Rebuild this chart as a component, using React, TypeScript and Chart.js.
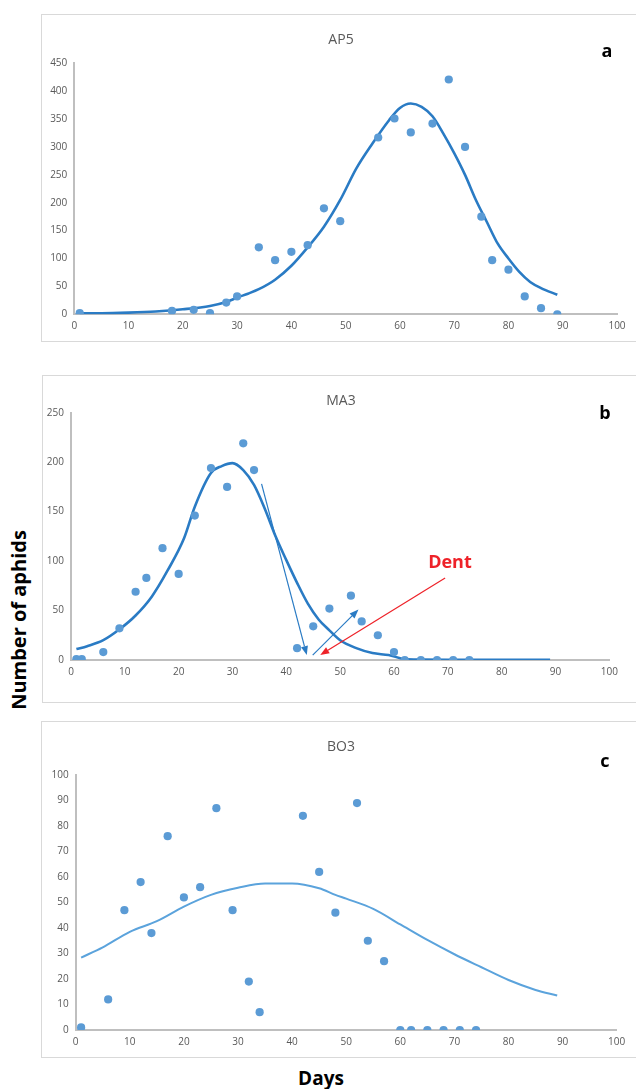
import React, { useEffect, useRef } from 'react';
import { Chart, registerables } from 'chart.js';
Chart.register(...registerables);

// ---------- Data ----------
const apDays = [1, 18, 22, 25, 28, 30, 34, 37, 40, 43, 46, 49, 56, 59, 62, 66, 69, 72, 75, 77, 80, 83, 86, 89];
const apCounts = [2, 6, 8, 2, 21, 32, 120, 97, 112, 124, 190, 167, 317, 351, 326, 342, 421, 300, 175, 97, 80, 32, 11, 0];
const apFitDays = [1, 5, 10, 15, 20, 25, 28, 30, 32, 34, 37, 40, 43, 46, 49, 52, 55, 58, 60, 62, 64, 66, 68, 70, 72, 74, 76, 78, 80, 82, 84, 86, 89];
const apFit = [2, 2, 3, 5, 9, 15, 22, 30, 37, 45, 62, 87, 120, 157, 205, 262, 307, 348, 370, 378, 372, 355, 324, 289, 250, 205, 166, 127, 100, 76, 58, 47, 35];

const maDays = [1, 2, 6, 9, 12, 14, 17, 20, 23, 26, 29, 32, 34, 42, 45, 48, 52, 54, 57, 60, 62, 65, 68, 71, 74];
const maCounts = [1, 1, 8, 32, 69, 83, 113, 87, 146, 194, 175, 219, 192, 12, 34, 52, 65, 39, 25, 8, 0, 0, 0, 0, 0];
const maFitDays = [1, 3, 6, 9, 12, 15, 18, 21, 23, 26, 28, 30, 32, 34, 36, 38, 40, 42, 44, 46, 48, 50, 53, 56, 59, 62, 65, 70, 80, 89];
const maFit = [11, 14, 20, 31, 45, 64, 91, 123, 155, 189, 196, 199, 192, 177, 153, 125, 101, 78, 57, 41, 30, 20, 12, 7, 5, 1, 0.5, 0.3, 0.2, 0.2];

const boDays = [1, 6, 9, 12, 14, 17, 20, 23, 26, 29, 32, 34, 42, 45, 48, 52, 54, 57, 60, 62, 65, 68, 71, 74];
const boCounts = [1, 12, 47, 58, 38, 76, 52, 56, 87, 47, 19, 7, 84, 62, 46, 89, 35, 27, 0, 0, 0, 0, 0, 0];
const boFitDays = [1, 5, 10, 15, 20, 25, 30, 35, 40, 45, 48, 50, 55, 60, 65, 70, 75, 80, 85, 89];
const boFit = [28.4, 32.4, 38.5, 42.7, 48.4, 53, 55.8, 57.5, 57.5, 55.6, 53, 51.5, 47.5, 41.4, 35.3, 29.7, 24.6, 19.6, 15.7, 13.5];

const xTickStep = 10;
const xMax = 100;

// annotation arrows for panel b, in data units [day, aphids]
const maArrowFrom = [[35.4, 178], [44.9, 5], [69.5, 83]];
const maArrowTo = [[43.8, 5], [53.4, 51], [46.3, 5]];
const maArrowKind = ['blue', 'blue', 'red'];
const maNoteText = 'Dent';
const maNoteAt = [70.4, 98];

// ---------- Styles ----------
const POINT_COLOR = '#5b9bd5';
const DARK_LINE = '#2a7bc4';
const LIGHT_LINE = '#5ba3dc';
const AXIS_COLOR = '#bfbfbf';
const TICK_COLOR = '#595959';
const RED = '#ee2229';

const arrowPlugin = {
  id: 'arrowNotes',
  afterDatasetsDraw(chart: any, _args: any, opts: any) {
    if (!opts || !opts.from) return;
    const { ctx } = chart;
    const xs = chart.scales.x;
    const ys = chart.scales.y;
    ctx.save();
    opts.from.forEach((f: number[], i: number) => {
      const t = opts.to[i];
      const color = opts.kind[i] === 'red' ? RED : DARK_LINE;
      const x1 = xs.getPixelForValue(f[0]);
      const y1 = ys.getPixelForValue(f[1]);
      const x2 = xs.getPixelForValue(t[0]);
      const y2 = ys.getPixelForValue(t[1]);
      const ang = Math.atan2(y2 - y1, x2 - x1);
      const L = 9;
      const W = 3.5;
      const bx = x2 - L * Math.cos(ang);
      const by = y2 - L * Math.sin(ang);
      ctx.strokeStyle = color;
      ctx.fillStyle = color;
      ctx.lineWidth = 1.2;
      ctx.beginPath();
      ctx.moveTo(x1, y1);
      ctx.lineTo(bx, by);
      ctx.stroke();
      ctx.beginPath();
      ctx.moveTo(x2, y2);
      ctx.lineTo(bx + W * Math.sin(ang), by - W * Math.cos(ang));
      ctx.lineTo(bx - W * Math.sin(ang), by + W * Math.cos(ang));
      ctx.closePath();
      ctx.fill();
    });
    if (opts.text) {
      ctx.fillStyle = RED;
      ctx.font = 'bold 18px "Open Sans"';
      ctx.textAlign = 'center';
      ctx.textBaseline = 'middle';
      ctx.fillText(opts.text, xs.getPixelForValue(opts.textAt[0]), ys.getPixelForValue(opts.textAt[1]));
    }
    ctx.restore();
  },
};

type PanelCfg = {
  days: number[];
  counts: number[];
  fitDays: number[];
  fit: number[];
  yMax: number;
  yStep: number;
  left: number;
  top: number;
  w: number;
  h: number;
  yW: number;
  padT: number;
  padR: number;
  padB: number;
  lineColor: string;
  lineWidth: number;
  notes?: any;
};

function Panel({ cfg }: { cfg: PanelCfg }) {
  const ref = useRef<HTMLCanvasElement>(null);
  useEffect(() => {
    const tickFont = { family: '"Open Sans", "Noto Sans", sans-serif', size: 10 };
    const chart = new Chart(ref.current as HTMLCanvasElement, {
      type: 'scatter',
      data: {
        datasets: [
          {
            type: 'scatter',
            data: cfg.days.map((d, i) => ({ x: d, y: cfg.counts[i] })),
            backgroundColor: POINT_COLOR,
            borderWidth: 0,
            pointRadius: 4.1,
          } as any,
          {
            type: 'line',
            data: cfg.fitDays.map((d, i) => ({ x: d, y: cfg.fit[i] })),
            borderColor: cfg.lineColor,
            borderWidth: cfg.lineWidth,
            pointRadius: 0,
            fill: false,
            cubicInterpolationMode: 'monotone',
            showLine: true,
          } as any,
        ],
      },
      options: {
        responsive: false,
        animation: false,
        layout: { padding: { left: 0, top: cfg.padT, right: cfg.padR, bottom: cfg.padB } },
        plugins: {
          legend: { display: false },
          tooltip: { enabled: false },
          arrowNotes: cfg.notes || {},
        } as any,
        scales: {
          x: {
            type: 'linear',
            min: 0,
            max: xMax,
            ticks: { stepSize: xTickStep, color: TICK_COLOR, font: tickFont, padding: 6, maxRotation: 0, autoSkip: false },
            grid: { color: 'rgba(0,0,0,0)', drawTicks: false },
            border: { color: AXIS_COLOR, width: 2 },
            afterFit: (s: any) => {
              s.height = 20;
            },
          },
          y: {
            type: 'linear',
            min: 0,
            max: cfg.yMax,
            ticks: { stepSize: cfg.yStep, color: TICK_COLOR, font: tickFont, padding: 7 },
            grid: { color: 'rgba(0,0,0,0)', drawTicks: false },
            border: { color: AXIS_COLOR, width: 2 },
            afterFit: (s: any) => {
              s.width = cfg.yW;
            },
          },
        },
      } as any,
      plugins: [arrowPlugin],
    });
    return () => chart.destroy();
  }, []);
  return (
    <canvas
      ref={ref}
      width={cfg.w}
      height={cfg.h}
      style={{ position: 'absolute', left: cfg.left, top: cfg.top, width: cfg.w, height: cfg.h }}
    />
  );
}

const panelA: PanelCfg = {
  days: apDays, counts: apCounts, fitDays: apFitDays, fit: apFit,
  yMax: 450, yStep: 50,
  left: 41, top: 14, w: 595, h: 328,
  yW: 33.3, padT: 49.3, padR: 19, padB: 7.7,
  lineColor: DARK_LINE, lineWidth: 2.6,
};
const panelB: PanelCfg = {
  days: maDays, counts: maCounts, fitDays: maFitDays, fit: maFit,
  yMax: 250, yStep: 50,
  left: 42, top: 375, w: 594, h: 328,
  yW: 29, padT: 37.7, padR: 26.7, padB: 23,
  lineColor: DARK_LINE, lineWidth: 2.6,
  notes: { from: maArrowFrom, to: maArrowTo, kind: maArrowKind, text: maNoteText, textAt: maNoteAt },
};
const panelC: PanelCfg = {
  days: boDays, counts: boCounts, fitDays: boFitDays, fit: boFit,
  yMax: 100, yStep: 10,
  left: 41, top: 721, w: 595, h: 337,
  yW: 34.7, padT: 54, padR: 19.3, padB: 8,
  lineColor: LIGHT_LINE, lineWidth: 2,
};

const boxStyle = (left: number, top: number, h: number): React.CSSProperties => ({
  position: 'absolute', left, top, width: 640 - left, height: h,
  border: '1px solid #d9d9d9', boxSizing: 'border-box', background: '#fff',
});

const titleStyle = (cx: number, cy: number): React.CSSProperties => ({
  position: 'absolute', left: cx, top: cy, transform: 'translate(-50%, -50%)',
  font: '14px "Open Sans", "Noto Sans", sans-serif', color: '#595959', whiteSpace: 'nowrap', lineHeight: 1,
});
const letterStyle = (cx: number, cy: number): React.CSSProperties => ({
  position: 'absolute', left: cx, top: cy, transform: 'translate(-50%, -50%)',
  font: 'bold 18px "Open Sans", "Noto Sans", sans-serif', color: '#000', whiteSpace: 'nowrap', lineHeight: 1,
});

export default function App() {
  return (
    <div style={{ position: 'absolute', left: 0, top: 0, width: 636, height: 1089, overflow: 'hidden', background: '#fff' }}>
      <div style={boxStyle(41, 14, 328)} />
      <div style={boxStyle(42, 375, 328)} />
      <div style={boxStyle(41, 721, 337)} />
      <Panel cfg={panelA} />
      <Panel cfg={panelB} />
      <Panel cfg={panelC} />
      <div style={titleStyle(341, 39)}>AP5</div>
      <div style={titleStyle(341, 400)}>MA3</div>
      <div style={titleStyle(341, 746)}>BO3</div>
      <div style={letterStyle(607, 50)}>a</div>
      <div style={letterStyle(605, 412)}>b</div>
      <div style={letterStyle(605, 760)}>c</div>
      <div
        style={{
          position: 'absolute', left: 19, top: 620, transform: 'translate(-50%, -50%) rotate(-90deg)',
          font: 'bold 20px "Open Sans", "Noto Sans", sans-serif', color: '#000', whiteSpace: 'nowrap', lineHeight: 1,
        }}
      >
        Number of aphids
      </div>
      <div
        style={{
          position: 'absolute', left: 321, top: 1078, transform: 'translate(-50%, -50%)',
          font: 'bold 19px "Open Sans", "Noto Sans", sans-serif', color: '#000', whiteSpace: 'nowrap', lineHeight: 1,
        }}
      >
        Days
      </div>
    </div>
  );
}
